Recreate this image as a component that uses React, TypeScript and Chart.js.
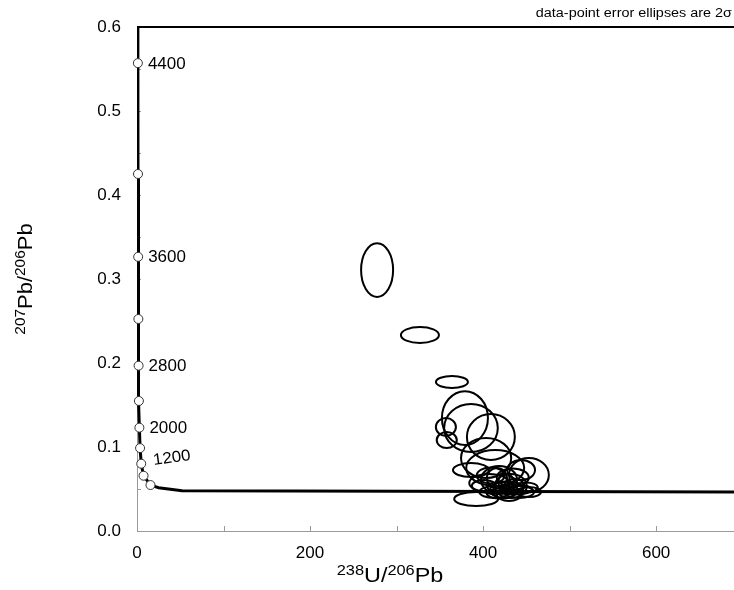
import React, { useEffect, useRef } from 'react';
import { Chart, registerables } from 'chart.js';

Chart.register(...registerables);

// Concordia curve (238U/206Pb, 207Pb/206Pb)
const concordiaX = [0.961, 1.021, 1.163, 1.337, 1.556, 1.838, 2.217, 2.749, 3.55, 4.89, 7.57, 15.6, 25, 52, 690];
const concordiaY = [0.64, 0.557, 0.425, 0.3264, 0.2524, 0.1968, 0.1548, 0.123, 0.0987, 0.0801, 0.0658, 0.0547, 0.0515, 0.0478, 0.0465];

// Age markers (Ma) on the concordia
const ageMarkX = [1.021, 1.163, 1.337, 1.556, 1.838, 2.217, 2.749, 3.55, 4.89, 7.57, 15.6];
const ageMarkY = [0.557, 0.425, 0.3264, 0.2524, 0.1968, 0.1548, 0.123, 0.0987, 0.0801, 0.0658, 0.0547];
const ageMarkLabels = ['4400', '', '3600', '', '2800', '', '2000', '', '1200', '', ''];

// Error ellipses: centres and half-axes in data units
const ellipseX = [277.5, 327, 364, 379, 386, 357, 358, 409, 403.5, 414, 453, 386, 392, 418.5, 432, 424, 441.6, 413, 401, 430, 453, 416, 426.6, 407, 436, 444, 426, 437.8, 420.4, 449.3, 408.8, 434.3];
const ellipseY = [0.3107, 0.2333, 0.1774, 0.1345, 0.1226, 0.1238, 0.1083, 0.1119, 0.0869, 0.075, 0.0667, 0.0726, 0.0381, 0.0607, 0.0536, 0.0488, 0.0464, 0.0464, 0.0536, 0.0429, 0.0464, 0.063, 0.0583, 0.0571, 0.0536, 0.0726, 0.0518, 0.0494, 0.0446, 0.0518, 0.066, 0.0637];
const ellipseRX = [18.5, 22, 18.5, 26.6, 31, 11.6, 11.6, 27.7, 29, 33.5, 23, 20.8, 25.4, 20.8, 18.5, 16, 17.3, 17.3, 14, 14, 14, 11.6, 9, 23, 11.6, 16, 20.8, 18.5, 16.2, 13.9, 16.2, 18.5];
const ellipseRY = [0.032, 0.0095, 0.0071, 0.032, 0.0286, 0.0107, 0.0095, 0.0274, 0.0238, 0.0214, 0.0202, 0.0083, 0.0083, 0.0167, 0.0143, 0.0095, 0.0071, 0.0071, 0.0071, 0.0071, 0.006, 0.012, 0.0095, 0.0107, 0.0083, 0.012, 0.0071, 0.006, 0.006, 0.006, 0.0095, 0.0107];

// Axes
const xMin = 0;
const xMax = 690;
const yMin = 0;
const yMax = 0.6;
const xTickValues = [0, 100, 200, 300, 400, 500, 600];
const xLabelValues = [0, 200, 400, 600];
const yTickValues = [0, 0.1, 0.2, 0.3, 0.4, 0.5, 0.6];
const yMinorTicks = [0.05, 0.1, 0.15, 0.2, 0.25, 0.3, 0.35, 0.4, 0.45, 0.5, 0.55];

const FONT = "'Liberation Sans', Arial, sans-serif";

type Seg = { t: string; sup?: boolean };
const xTitle: Seg[] = [{ t: '238', sup: true }, { t: 'U/' }, { t: '206', sup: true }, { t: 'Pb' }];
const yTitle: Seg[] = [{ t: '207', sup: true }, { t: 'Pb/' }, { t: '206', sup: true }, { t: 'Pb' }];
const noteText = 'data-point error ellipses are 2\u03C3';

function drawSegs(ctx: CanvasRenderingContext2D, segs: Seg[], cx: number, baseY: number, sx: number) {
  const big = `20px ${FONT}`;
  const small = `14px ${FONT}`;
  let total = 0;
  for (const s of segs) {
    ctx.font = s.sup ? small : big;
    total += ctx.measureText(s.t).width;
  }
  ctx.save();
  ctx.translate(cx, baseY);
  ctx.scale(sx, 1);
  let x = -total / 2;
  ctx.textAlign = 'left';
  ctx.textBaseline = 'alphabetic';
  for (const s of segs) {
    ctx.font = s.sup ? small : big;
    ctx.fillText(s.t, x, s.sup ? -7 : 0);
    x += ctx.measureText(s.t).width;
  }
  ctx.restore();
}

const decorPlugin = {
  id: 'decor',
  beforeDatasetsDraw(chart: any) {
    const { ctx, chartArea, scales } = chart;
    const xs = scales.x;
    const ys = scales.y;
    ctx.save();
    ctx.strokeStyle = '#9a9a9a';
    ctx.lineWidth = 1;
    for (const v of xTickValues) {
      const px = Math.round(xs.getPixelForValue(v)) + 0.5;
      ctx.beginPath();
      ctx.moveTo(px, chartArea.bottom);
      ctx.lineTo(px, chartArea.bottom - 5);
      ctx.stroke();
    }
    for (const v of yMinorTicks) {
      const py = Math.round(ys.getPixelForValue(v)) + 0.5;
      ctx.beginPath();
      ctx.moveTo(chartArea.left, py);
      ctx.lineTo(chartArea.left + 4, py);
      ctx.stroke();
    }
    ctx.strokeStyle = '#000';
    ctx.lineWidth = 2;
    ctx.beginPath();
    ctx.moveTo(chartArea.left, chartArea.top);
    ctx.lineTo(chartArea.right, chartArea.top);
    ctx.stroke();
    ctx.restore();
  },
  afterDatasetsDraw(chart: any) {
    const { ctx, chartArea, scales } = chart;
    const xs = scales.x;
    const ys = scales.y;
    ctx.save();
    ctx.beginPath();
    ctx.rect(chartArea.left, chartArea.top, chartArea.right - chartArea.left, chartArea.bottom - chartArea.top);
    ctx.clip();
    ctx.strokeStyle = '#000';
    ctx.lineWidth = 2;
    for (let i = 0; i < ellipseX.length; i++) {
      const cx = xs.getPixelForValue(ellipseX[i]);
      const cy = ys.getPixelForValue(ellipseY[i]);
      const rx = Math.abs(xs.getPixelForValue(ellipseX[i] + ellipseRX[i]) - cx);
      const ry = Math.abs(ys.getPixelForValue(ellipseY[i] + ellipseRY[i]) - cy);
      ctx.beginPath();
      ctx.ellipse(cx, cy, rx, ry, 0, 0, Math.PI * 2);
      ctx.stroke();
    }
    ctx.restore();

    ctx.save();
    ctx.fillStyle = '#000';
    ctx.font = `16px ${FONT}`;
    ctx.textAlign = 'left';
    ctx.textBaseline = 'middle';
    for (let i = 0; i < ageMarkX.length; i++) {
      const lab = ageMarkLabels[i];
      if (!lab) continue;
      const px = xs.getPixelForValue(ageMarkX[i]);
      const py = ys.getPixelForValue(ageMarkY[i]);
      ctx.save();
      if (lab === '1200') {
        ctx.translate(px + 12, py - 3);
        ctx.rotate(-0.14);
      } else {
        ctx.translate(px + 10, py + 1);
      }
      ctx.scale(1.06, 1);
      ctx.fillText(lab, 0, 0);
      ctx.restore();
    }
    ctx.restore();
  },
  afterDraw(chart: any) {
    const { ctx, chartArea } = chart;
    ctx.save();
    ctx.fillStyle = '#000';
    drawSegs(ctx, xTitle, 390, 582, 1.17);
    ctx.save();
    ctx.translate(32, (chartArea.top + chartArea.bottom) / 2);
    ctx.rotate(-Math.PI / 2);
    drawSegs(ctx, yTitle, 0, 0, 1.1);
    ctx.restore();
    ctx.save();
    ctx.translate(732, 14);
    ctx.scale(1.2, 1);
    ctx.font = `12px ${FONT}`;
    ctx.textAlign = 'right';
    ctx.textBaseline = 'middle';
    ctx.fillText(noteText, 0, 0);
    ctx.restore();
    ctx.restore();
  },
};

export default function App() {
  const ref = useRef<HTMLCanvasElement | null>(null);
  useEffect(() => {
    if (!ref.current) return;
    const chart = new Chart(ref.current, {
      type: 'scatter',
      data: {
        datasets: [
          {
            label: 'markers',
            data: ageMarkX.map((x, i) => ({ x, y: ageMarkY[i] })),
            pointRadius: 4.5,
            pointHoverRadius: 4.5,
            pointBackgroundColor: '#fff',
            pointBorderColor: '#333',
            pointBorderWidth: 1,
            showLine: false,
            order: 0,
            clip: false as any,
          },
          {
            label: 'concordia',
            data: concordiaX.map((x, i) => ({ x, y: concordiaY[i] })),
            showLine: true,
            borderColor: '#000',
            borderWidth: 3,
            pointRadius: 0,
            tension: 0,
            order: 1,
            clip: 0 as any,
          },
        ],
      },
      options: {
        responsive: false,
        animation: false,
        events: [],
        layout: { autoPadding: false, padding: { top: 27, left: 0, right: 0, bottom: 0 } },
        plugins: { legend: { display: false }, tooltip: { enabled: false } },
        scales: {
          x: {
            type: 'linear',
            min: xMin,
            max: xMax,
            afterBuildTicks: (s: any) => { s.ticks = xTickValues.map((v) => ({ value: v })); },
            afterFit: (s: any) => { s.height = 59; s.paddingRight = 0; s.paddingLeft = 0; },
            grid: { display: true, drawOnChartArea: false, drawTicks: false },
            border: { display: true, color: '#9a9a9a', width: 1 },
            ticks: {
              autoSkip: false,
              maxRotation: 0,
              padding: 12,
              color: '#000',
              font: { family: FONT, size: 17 },
              callback: (v: any) => (xLabelValues.includes(Number(v)) ? String(v) : ''),
            },
          },
          y: {
            type: 'linear',
            min: yMin,
            max: yMax,
            afterBuildTicks: (s: any) => { s.ticks = yTickValues.map((v) => ({ value: v })); },
            afterFit: (s: any) => { s.width = 137; s.paddingTop = 0; s.paddingBottom = 0; },
            grid: { display: true, drawOnChartArea: false, drawTicks: false },
            border: { display: true, color: '#9a9a9a', width: 1 },
            ticks: {
              autoSkip: false,
              padding: 16,
              color: '#000',
              font: { family: FONT, size: 17 },
              callback: (v: any) => Number(v).toFixed(1),
            },
          },
        },
      },
      plugins: [decorPlugin],
    });
    return () => chart.destroy();
  }, []);
  return (
    <div style={{ position: 'absolute', left: 0, top: 0, width: 734, height: 590, background: '#fff' }}>
      <canvas ref={ref} width={734} height={590} style={{ display: 'block' }} />
    </div>
  );
}
